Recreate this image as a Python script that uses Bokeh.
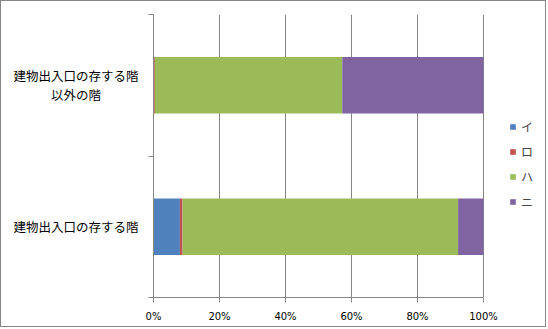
from bokeh.plotting import figure
from bokeh.models import (Range1d, FixedTicker, Legend, LegendItem,
                          ColumnDataSource, LinearAxis)
from bokeh.embed import file_html
from bokeh.resources import INLINE

categories = ["建物出入口の存する階", "建物出入口の存する階\n以外の階\u3000\u3000\u3000"]
series = ["イ", "ロ", "ハ", "ニ"]
i_vals = [8.0, 0.0]
ro_vals = [0.8, 0.4]
ha_vals = [83.5, 56.8]
ni_vals = [7.7, 42.8]
colors = ["#4F81BD", "#C0504D", "#9BBB59", "#8064A2"]
x_ticks = [0, 20, 40, 60, 80, 100]

ypos = [i + 0.5 for i in range(len(categories))]
bounds = [i for i in range(len(categories) + 1)]
src = ColumnDataSource(dict(y=ypos, s0=i_vals, s1=ro_vals, s2=ha_vals, s3=ni_vals))

W, H = 546, 327
LEFT, TOP, BOTTOM = 152, 13, 31
AXIS_PX = 330  # pixel length of the 0-100% axis
x_end = 100 * (W - LEFT) / AXIS_PX

p = figure(width=W, height=H, x_range=Range1d(0, x_end), y_range=Range1d(0, len(categories)),
           output_backend="svg", toolbar_location=None, y_axis_location=None,
           min_border_left=LEFT, min_border_right=0, min_border_top=TOP, min_border_bottom=BOTTOM)
p.outline_line_color = None
p.styles = {"border": "1px solid #868686"}

rs = p.hbar_stack(["s0", "s1", "s2", "s3"], y="y", height=0.4, color=colors,
                  line_color=None, source=src)

# x axis
p.xaxis.ticker = FixedTicker(ticks=x_ticks)
p.xaxis.bounds = (0, 100)
p.xaxis.major_label_overrides = {t: f"{t}%" for t in x_ticks}
p.xaxis.axis_line_color = "#868686"
p.xaxis.major_tick_line_color = "#868686"
p.xaxis.major_tick_out = 5
p.xaxis.major_tick_in = 0
p.xaxis.minor_tick_line_color = None
p.xaxis.major_label_text_font = "DejaVu Sans"
p.xaxis.major_label_text_font_size = "10px"
p.xaxis.major_label_text_color = "black"
p.xaxis.major_label_standoff = 8

p.xgrid.ticker = FixedTicker(ticks=x_ticks)
p.xgrid.grid_line_color = "#868686"
p.ygrid.grid_line_color = None

# y axis (category labels at centres, ticks at category boundaries)
yax = LinearAxis(ticker=FixedTicker(ticks=ypos, minor_ticks=bounds))
yax.major_label_overrides = {y: c for y, c in zip(ypos, categories)}
yax.axis_line_color = "#868686"
yax.major_tick_line_color = None
yax.major_tick_out = 0
yax.major_tick_in = 0
yax.minor_tick_line_color = "#868686"
yax.minor_tick_out = 5
yax.minor_tick_in = 0
yax.major_label_text_font = "Noto Sans CJK JP"
yax.major_label_text_font_size = "12.5px"
yax.major_label_text_color = "black"
yax.major_label_text_line_height = 1.0
yax.major_label_standoff = 10
p.add_layout(yax, "left")

legend = Legend(items=[LegendItem(label=s, renderers=[r]) for s, r in zip(series, rs)],
                location=(356, 86), glyph_width=7, glyph_height=7, label_standoff=5,
                spacing=5, padding=0, margin=0, border_line_color=None,
                background_fill_alpha=0, label_text_font="Noto Sans CJK JP",
                label_text_font_size="12px", label_height=20)
p.add_layout(legend, "center")

open("out.html", "w").write(file_html(p, INLINE))
